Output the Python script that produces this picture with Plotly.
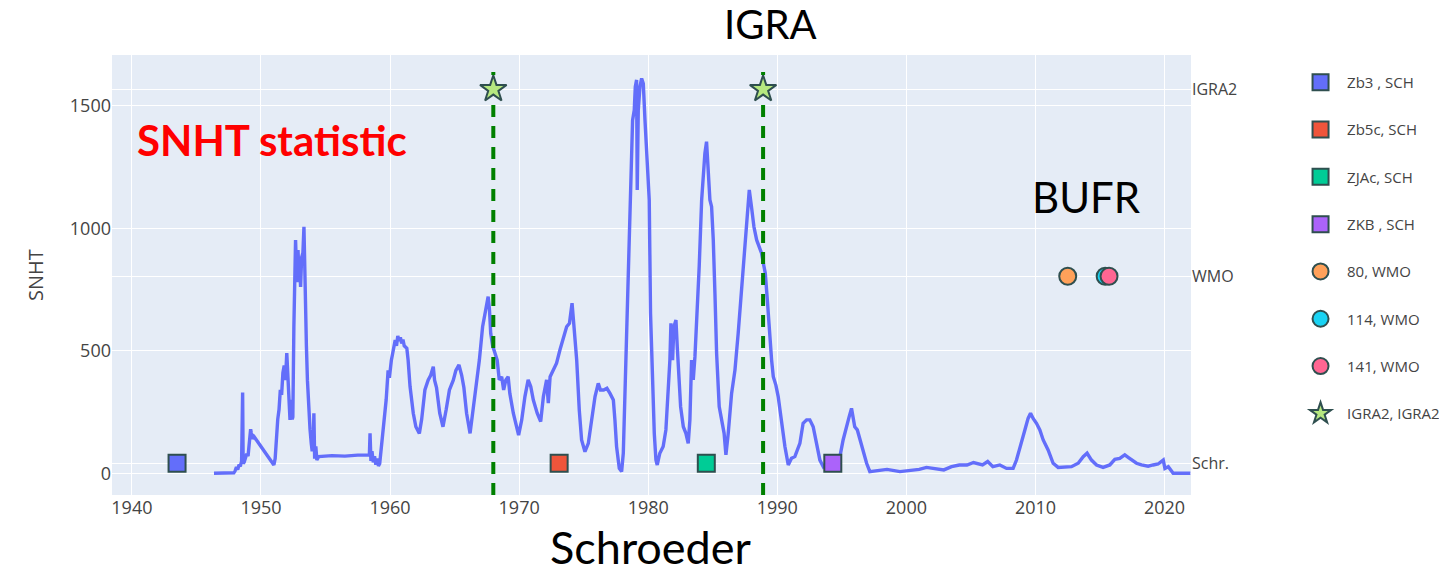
import plotly.graph_objects as go

# ---- SNHT time series ----
years = [1946.36, 1947.0, 1947.6, 1947.9, 1948.0, 1948.1, 1948.2, 1948.3, 1948.4, 1948.5, 1948.58, 1948.62,
         1948.7, 1948.8, 1948.9, 1949.0, 1949.1, 1949.2, 1949.25, 1949.3, 1949.35, 1949.46, 1951.0,
         1951.1, 1951.2, 1951.3, 1951.4, 1951.5, 1951.6, 1951.7, 1951.8, 1951.9, 1952.0, 1952.05, 1952.1,
         1952.15, 1952.2, 1952.25, 1952.3, 1952.35, 1952.42, 1952.47, 1952.55, 1952.62, 1952.68, 1952.73,
         1952.8, 1952.87, 1952.94, 1953.0, 1953.07, 1953.15, 1953.25, 1953.33, 1953.38, 1953.44, 1953.52,
         1953.6, 1953.7, 1953.8, 1953.9, 1953.97, 1954.05, 1954.1, 1954.16, 1954.25, 1954.33, 1954.47,
         1955.5, 1956.5, 1957.5, 1958.4,
         1958.45, 1958.52, 1958.6, 1958.7, 1958.8, 1958.9, 1959.0, 1959.1, 1959.2, 1959.3, 1959.45, 1959.55,
         1959.7, 1959.85, 1959.95, 1960.1, 1960.25, 1960.4, 1960.5, 1960.6, 1960.7, 1960.8, 1960.9, 1961.0,
         1961.1, 1961.3, 1961.4, 1961.55, 1961.8, 1962.0, 1962.27, 1962.45, 1962.7, 1962.95, 1963.15,
         1963.35, 1963.45, 1963.6, 1963.85, 1964.1, 1964.35, 1964.6, 1964.9, 1965.1, 1965.34, 1965.55,
         1965.72, 1965.93, 1966.2, 1966.4, 1966.66, 1966.92, 1967.17, 1967.43, 1967.6, 1967.7, 1967.8,
         1967.95, 1968.12, 1968.3, 1968.46, 1968.65, 1968.8, 1968.97, 1969.15, 1969.28, 1969.55, 1969.8,
         1969.96, 1970.2, 1970.45, 1970.7, 1970.9, 1971.1, 1971.4, 1971.67, 1971.88, 1972.13, 1972.26,
         1972.4, 1972.65, 1972.9, 1973.16, 1973.42, 1973.68, 1973.9, 1974.1, 1974.25, 1974.46, 1974.66,
         1974.84, 1975.1, 1975.36, 1975.62, 1975.88, 1976.13, 1976.3, 1976.55, 1976.8, 1977.04, 1977.3,
         1977.42, 1977.55, 1977.76, 1977.94, 1978.07, 1978.27, 1978.45, 1978.64, 1978.79, 1978.92, 1979.0,
         1979.1, 1979.15, 1979.23, 1979.36, 1979.49, 1979.62, 1979.75, 1979.93, 1980.08, 1980.18, 1980.34,
         1980.47, 1980.6, 1980.7, 1980.9, 1981.16, 1981.37, 1981.55, 1981.68, 1981.76, 1981.89, 1981.99,
         1982.15, 1982.25, 1982.35, 1982.51, 1982.72, 1982.92, 1983.1, 1983.23, 1983.36, 1983.49, 1983.62,
         1983.8, 1983.95, 1984.14, 1984.26, 1984.39, 1984.52, 1984.65, 1984.78, 1984.91, 1985.04, 1985.17,
         1985.3, 1985.5, 1985.7, 1985.88, 1986.02, 1986.2, 1986.46, 1986.72, 1986.97, 1987.23, 1987.49,
         1987.67, 1987.83, 1988.0, 1988.19, 1988.4, 1988.6, 1988.78, 1988.92, 1989.07, 1989.23, 1989.38,
         1989.56, 1989.69, 1989.89, 1990.07, 1990.33, 1990.59, 1990.85, 1991.1, 1991.36, 1991.62,
         1991.75, 1992.0, 1992.27, 1992.52, 1992.78, 1993.04, 1993.3, 1993.56, 1993.82, 1994.07, 1994.33,
         1994.6, 1994.85, 1995.1, 1995.33, 1995.57, 1995.75, 1995.88, 1996.0, 1996.2, 1996.4, 1996.66,
         1996.92, 1997.17, 1997.7, 1998.5, 1999.5, 2000.3, 2001.0, 2001.56, 2002.2, 2002.9, 2003.5, 2004.1,
         2004.7, 2005.2, 2005.9, 2006.3, 2006.7, 2007.24, 2007.76, 2008.27, 2008.53, 2008.79, 2009.18,
         2009.43, 2009.62, 2009.82, 2010.08, 2010.34, 2010.6, 2010.98, 2011.37, 2011.76, 2012.27, 2012.79,
         2013.31, 2013.7, 2014.0, 2014.34, 2014.73, 2015.24, 2015.76, 2016.15, 2016.53, 2016.92, 2017.18,
         2017.44, 2017.83, 2018.21, 2018.73, 2019.12, 2019.5, 2019.9, 2020.03, 2020.29, 2020.55, 2020.67,
         2022.0]
snht = [0, 0, 0, 2, 10, 25, 15, 35, 28, 50, 330, 40,
        45, 60, 80, 70, 120, 180, 165, 150, 140, 150, 34,
        60, 150, 220, 260, 340, 320, 410, 440, 380, 490, 420, 440,
        330, 300, 218, 260, 300, 220, 230, 600, 816, 952, 870,
        780, 911, 820, 850, 760, 880, 900, 1006, 820, 600, 520,
        380, 250, 180, 120, 90, 120, 245, 60, 110, 54, 68,
        72, 70, 74, 75,
        163, 50, 90, 45, 70, 35, 60, 30, 40, 90, 150, 200,
        300, 420, 390, 460, 500, 544, 520, 560, 540, 555, 530, 545,
        520, 510, 462, 354, 245, 190, 163, 220, 340, 380, 400,
        435, 380, 350, 245, 190, 260, 340, 380, 420, 442, 400,
        350, 245, 163, 245, 340, 462, 598, 680, 721, 670, 570,
        520, 490, 462, 381, 394, 340, 381, 394, 326, 245, 190,
        156, 218, 313, 381, 354, 299, 245, 211, 313, 381, 286,
        394, 422, 449, 503, 557, 598, 612, 694, 598, 462, 258,
        136, 88, 122, 218, 313, 367, 340, 340, 347, 326, 299,
        218, 109, 20, 7, 82, 462, 870, 1224, 1441, 1482, 1577,
        1605, 1156, 1482, 1577, 1611, 1590, 1441, 1278, 1115, 653, 326,
        163, 54, 34, 82, 109, 177, 326, 462, 612, 462, 598,
        625, 517, 394, 272, 190, 163, 122, 218, 462, 381, 476,
        666, 843, 1115, 1224, 1305, 1353, 1251, 1115, 1088, 952, 734,
        489, 272, 218, 163, 75, 163, 326, 421, 571, 761, 952,
        1061, 1156, 1088, 1006, 952, 925, 898, 857, 816, 707, 571,
        462, 394, 360, 313, 204, 109, 34, 61, 68, 109,
        122, 204, 218, 218, 190, 122, 54, 27, 41, 27, 27,
        41, 68, 136, 190, 231, 265, 218, 190, 177, 136, 95,
        41, 7, 11, 16, 7, 11, 16, 24, 20, 14, 27, 34,
        34, 44, 34, 48, 27, 34, 20, 20, 54, 109, 177,
        224, 245, 224, 204, 177, 136, 95, 41, 24, 24, 27,
        41, 68, 82, 54, 34, 24, 34, 57, 61, 75, 65,
        54, 41, 34, 29, 34, 38, 54, 20, 27, 7, 0,
        0]

# ---- events ----
sch_names = ["Zb3 , SCH", "Zb5c, SCH", "ZJAc, SCH", "ZKB , SCH"]
sch_years = [1943.5, 1973.1, 1984.5, 1994.3]
wmo_names = ["80, WMO", "114, WMO", "141, WMO"]
wmo_years = [2012.5, 2015.4, 2015.7]
igra_name = "IGRA2, IGRA2"
igra_years = [1968.0, 1988.9]

levels = ["Schr.", "WMO", "IGRA2"]

sch_colors = ["#636efa", "#EF553B", "#00cc96", "#ab63fa"]
wmo_colors = ["#FFA15A", "#19d3f3", "#FF6692"]
igra_color = "#B6E880"

YMIN, YMAX = -88.5, 1706.6
XMIN, XMAX = 1938.46, 2022.05
VTOP = 1637

fig = go.Figure()
fig.add_trace(go.Scatter(x=years, y=snht, mode="lines", line=dict(color="#636efa", width=3.4),
                         showlegend=False))

for yr in igra_years:
    fig.add_trace(go.Scatter(x=[yr, yr], y=[YMIN, VTOP], mode="lines", showlegend=False,
                             line=dict(color="green", width=4, dash="12px,9px")))

outline = dict(color="DarkSlateGrey", width=2)
for i, (n, yr) in enumerate(zip(sch_names, sch_years)):
    fig.add_trace(go.Scatter(x=[yr], y=[levels[0]], yaxis="y2", mode="markers", name=n,
                             legendgroup=f"g{i}",
                             marker=dict(symbol="square", size=17, color=sch_colors[i], line=outline)))
for i, (n, yr) in enumerate(zip(wmo_names, wmo_years)):
    fig.add_trace(go.Scatter(x=[yr], y=[levels[1]], yaxis="y2", mode="markers", name=n,
                             legendgroup=f"w{i}",
                             marker=dict(symbol="circle", size=17, color=wmo_colors[i], line=outline)))
fig.add_trace(go.Scatter(x=igra_years, y=[levels[2]] * len(igra_years), yaxis="y2", mode="markers",
                         name=igra_name, legendgroup="igra",
                         marker=dict(symbol="star", size=20, color=igra_color, line=outline)))

fig.update_layout(
    template="plotly",
    width=1470, height=566,
    margin=dict(l=104, r=287, t=47, b=79),
    font=dict(family="Open Sans, Arial, sans-serif", size=15, color="#444"),
    xaxis=dict(range=[XMIN, XMAX], dtick=10, tick0=1940, showgrid=True, zeroline=False,
               tickfont=dict(size=18)),
    yaxis=dict(range=[YMIN, YMAX], dtick=500,
               title=dict(text="SNHT", font=dict(size=20), standoff=20),
               tickfont=dict(size=18), zeroline=False),
    yaxis2=dict(overlaying="y", side="right", type="category", categoryorder="array",
                categoryarray=levels, range=[-0.170, 2.183], showgrid=True,
                gridcolor="white", tickfont=dict(size=16)),
    legend=dict(x=1.0955, y=0.975, xanchor="left", yanchor="top", traceorder="grouped",
                tracegroupgap=24.8, itemwidth=43, font=dict(size=15), bgcolor="rgba(0,0,0,0)"),
    showlegend=True,
)

cal = "Lato, Carlito, Calibri, sans-serif"
fig.add_annotation(text="IGRA", xref="paper", yref="paper", x=0.61, y=1.07,
                   xanchor="center", yanchor="middle", showarrow=False,
                   font=dict(family=cal, size=40, color="black"))
fig.add_annotation(text="<b>SNHT statistic</b>", xref="paper", yref="paper", x=0.0213, y=0.807,
                   xanchor="left", yanchor="middle", showarrow=False,
                   font=dict(family=cal, size=42, color="red"))
fig.add_annotation(text="BUFR", xref="paper", yref="paper", x=0.9036, y=0.677,
                   xanchor="center", yanchor="middle", showarrow=False,
                   font=dict(family=cal, size=42, color="black"))
fig.add_annotation(text="Schroeder", xref="paper", yref="paper", x=0.4995, y=-0.118,
                   xanchor="center", yanchor="middle", showarrow=False,
                   font=dict(family=cal, size=45, color="black"))

fig.write_html("out.html")
